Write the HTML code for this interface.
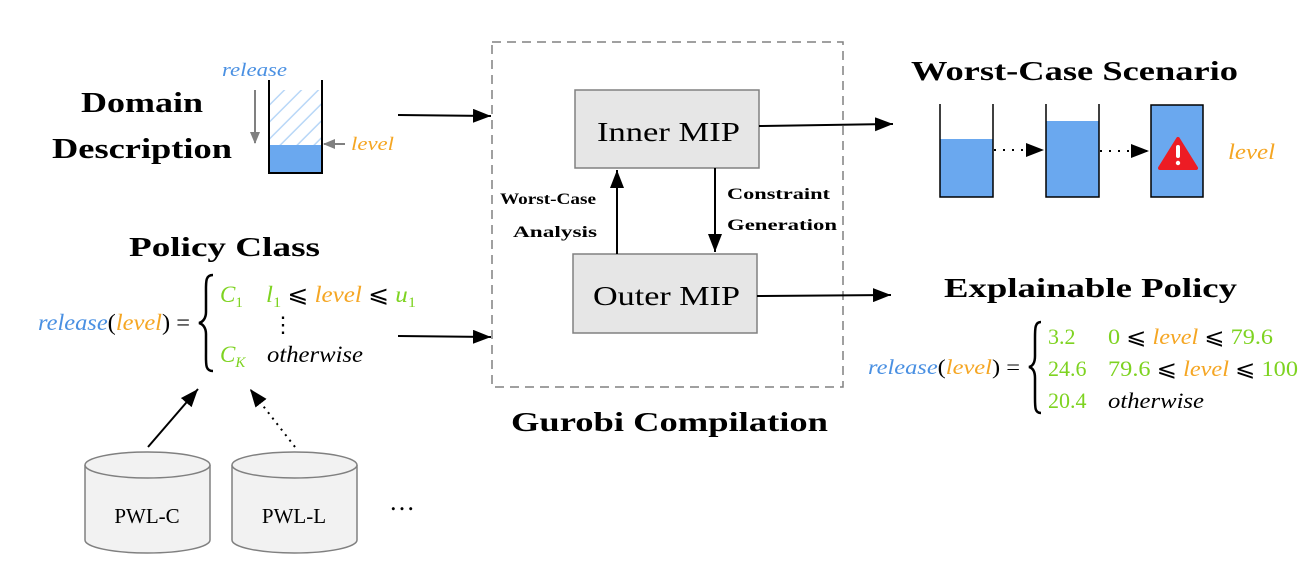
<!DOCTYPE html>
<html><head><style>body{margin:0;background:#fff}svg{display:block}</style></head><body>
<svg width="1308" height="580" viewBox="0 0 1308 580" xmlns="http://www.w3.org/2000/svg" font-family="Liberation Serif, serif">
<defs>
<marker id="a" markerWidth="10" markerHeight="8" refX="9" refY="4" orient="auto" markerUnits="userSpaceOnUse"><path d="M0,0L10,4L0,8z" fill="#000"/></marker>
<marker id="ab" markerWidth="20" markerHeight="14" refX="18" refY="7" orient="auto" markerUnits="userSpaceOnUse"><path d="M0,0L18,7L0,14z" fill="#000"/></marker>
<marker id="g" markerWidth="12" markerHeight="10" refX="11" refY="5" orient="auto" markerUnits="userSpaceOnUse"><path d="M0,0L12,5L0,10z" fill="#808080"/></marker>
<pattern id="h" width="12" height="12" patternUnits="userSpaceOnUse" patternTransform="rotate(45)"><line x1="0" y1="0" x2="0" y2="12" stroke="#b9d7f7" stroke-width="3"/></pattern>
</defs>
<!-- Domain -->
<text x="81" y="112" font-size="29" font-weight="bold" textLength="122" lengthAdjust="spacingAndGlyphs">Domain</text>
<text x="52" y="158" font-size="29" font-weight="bold" textLength="180" lengthAdjust="spacingAndGlyphs">Description</text>
<text x="222" y="76" font-size="19" font-style="italic" fill="#4a90e2" textLength="65" lengthAdjust="spacingAndGlyphs">release</text>
<line x1="255" y1="90" x2="255" y2="143" stroke="#808080" stroke-width="2" marker-end="url(#g)"/>
<rect x="270" y="90" width="52" height="55" fill="url(#h)"/>
<rect x="270" y="145" width="52" height="28" fill="#6aa8ef"/>
<path d="M269,80V173H322V80" fill="none" stroke="#000" stroke-width="2"/>
<line x1="345" y1="144" x2="324" y2="144" stroke="#808080" stroke-width="2" marker-end="url(#g)"/>
<text x="351" y="150" font-size="19" font-style="italic" fill="#f5a623" textLength="43" lengthAdjust="spacingAndGlyphs">level</text>
<!-- Policy class -->
<text x="129" y="256" font-size="27" font-weight="bold" textLength="191" lengthAdjust="spacingAndGlyphs">Policy Class</text>
<text x="38" y="330" font-size="23" font-style="italic" textLength="152" lengthAdjust="spacingAndGlyphs"><tspan fill="#4a90e2">release</tspan><tspan font-style="normal">(</tspan><tspan fill="#f5a623">level</tspan><tspan font-style="normal">) =</tspan></text>
<path d="M213,275C205,275 206,282 206,295V312C206,318 203,322 199,323C203,324 206,328 206,334V352C206,364 205,371 213,371" fill="none" stroke="#000" stroke-width="2.5"/>
<text x="220" y="302" font-size="23" font-style="italic" fill="#7ed321">C<tspan font-size="15" dy="5" font-style="normal">1</tspan></text>
<text x="266" y="302" font-size="23" font-style="italic" textLength="150" lengthAdjust="spacingAndGlyphs"><tspan fill="#7ed321">l</tspan><tspan fill="#7ed321" font-size="15" dy="5" font-style="normal">1</tspan><tspan dy="-5" font-style="normal"> ⩽ </tspan><tspan fill="#f5a623">level</tspan><tspan font-style="normal"> ⩽ </tspan><tspan fill="#7ed321">u</tspan><tspan fill="#7ed321" font-size="15" dy="5" font-style="normal">1</tspan></text>
<text x="272" y="332" font-size="22">⋮</text>
<text x="220" y="362" font-size="23" font-style="italic" fill="#7ed321">C<tspan font-size="15" dy="5">K</tspan></text>
<text x="267" y="362" font-size="23" font-style="italic" textLength="96" lengthAdjust="spacingAndGlyphs">otherwise</text>
<!-- arrows into box -->
<line x1="398" y1="115" x2="491" y2="116" stroke="#000" stroke-width="2" marker-end="url(#ab)"/>
<line x1="398" y1="336" x2="491" y2="337" stroke="#000" stroke-width="2" marker-end="url(#ab)"/>
<!-- dashed box -->
<rect x="492" y="42" width="351" height="345" fill="none" stroke="#808080" stroke-width="1.5" stroke-dasharray="9,6"/>
<rect x="575" y="90" width="184" height="78" fill="#e6e6e6" stroke="#808080" stroke-width="1.5"/>
<text x="597" y="141" font-size="27" textLength="143" lengthAdjust="spacingAndGlyphs">Inner MIP</text>
<rect x="573" y="254" width="184" height="79" fill="#e6e6e6" stroke="#808080" stroke-width="1.5"/>
<text x="593" y="305" font-size="27" textLength="147" lengthAdjust="spacingAndGlyphs">Outer MIP</text>
<line x1="617" y1="254" x2="617" y2="170" stroke="#000" stroke-width="2" marker-end="url(#ab)"/>
<line x1="715" y1="168" x2="715" y2="252" stroke="#000" stroke-width="2" marker-end="url(#ab)"/>
<text x="500" y="204" font-size="16" font-weight="bold" textLength="96" lengthAdjust="spacingAndGlyphs">Worst-Case</text>
<text x="513" y="237" font-size="16" font-weight="bold" textLength="84" lengthAdjust="spacingAndGlyphs">Analysis</text>
<text x="727" y="199" font-size="16" font-weight="bold" textLength="103" lengthAdjust="spacingAndGlyphs">Constraint</text>
<text x="727" y="230" font-size="16" font-weight="bold" textLength="110" lengthAdjust="spacingAndGlyphs">Generation</text>
<text x="511" y="431" font-size="27" font-weight="bold" textLength="317" lengthAdjust="spacingAndGlyphs">Gurobi Compilation</text>
<line x1="759" y1="126" x2="893" y2="124" stroke="#000" stroke-width="2" marker-end="url(#ab)"/>
<line x1="757" y1="296" x2="891" y2="295" stroke="#000" stroke-width="2" marker-end="url(#ab)"/>
<!-- Worst case -->
<text x="911" y="80" font-size="27" font-weight="bold" textLength="327" lengthAdjust="spacingAndGlyphs">Worst-Case Scenario</text>
<rect x="940" y="139" width="53" height="58" fill="#6aa8ef"/>
<path d="M940,104V197H993V104" fill="none" stroke="#000" stroke-width="1.5"/>
<rect x="1046" y="121" width="53" height="76" fill="#6aa8ef"/>
<path d="M1046,104V197H1099V104" fill="none" stroke="#000" stroke-width="1.5"/>
<rect x="1151" y="105" width="52" height="92" fill="#6aa8ef" stroke="#000" stroke-width="1.5"/>
<line x1="994" y1="150" x2="1044" y2="150" stroke="#000" stroke-width="2" stroke-dasharray="2,7" marker-end="url(#ab)"/>
<line x1="1100" y1="151" x2="1149" y2="151" stroke="#000" stroke-width="2" stroke-dasharray="2,7" marker-end="url(#ab)"/>
<path d="M1178,139L1196,168H1160z" fill="#ed1c24" stroke="#ed1c24" stroke-width="4" stroke-linejoin="round"/>
<rect x="1176" y="145" width="4" height="13" rx="2" fill="#fff"/><circle cx="1178" cy="163" r="2.2" fill="#fff"/>
<text x="1228" y="159" font-size="22" font-style="italic" fill="#f5a623" textLength="47" lengthAdjust="spacingAndGlyphs">level</text>
<!-- Explainable policy -->
<text x="944" y="297" font-size="27" font-weight="bold" textLength="293" lengthAdjust="spacingAndGlyphs">Explainable Policy</text>
<text x="868" y="374" font-size="21" font-style="italic" textLength="152" lengthAdjust="spacingAndGlyphs"><tspan fill="#4a90e2">release</tspan><tspan font-style="normal">(</tspan><tspan fill="#f5a623">level</tspan><tspan font-style="normal">) =</tspan></text>
<path d="M1041,322C1035,322 1035,328 1035,338V356C1035,362 1033,366 1029,367C1033,368 1035,372 1035,378V398C1035,408 1035,413 1041,413" fill="none" stroke="#000" stroke-width="2.5"/>
<g font-size="22" fill="#7ed321">
<text x="1048" y="344">3.2</text><text x="1108" y="344" textLength="165" lengthAdjust="spacingAndGlyphs">0 <tspan fill="#000">⩽</tspan> <tspan fill="#f5a623" font-style="italic">level</tspan> <tspan fill="#000">⩽</tspan> 79.6</text>
<text x="1048" y="376">24.6</text><text x="1108" y="376" textLength="190" lengthAdjust="spacingAndGlyphs">79.6 <tspan fill="#000">⩽</tspan> <tspan fill="#f5a623" font-style="italic">level</tspan> <tspan fill="#000">⩽</tspan> 100</text>
<text x="1048" y="408">20.4</text><text x="1108" y="408" fill="#000" font-style="italic" textLength="96" lengthAdjust="spacingAndGlyphs">otherwise</text>
</g>
<!-- cylinders -->
<g stroke="#808080" stroke-width="1.5" fill="#f2f2f2">
<path d="M85,465V540A62.5,13 0 0 0 210,540V465"/><ellipse cx="147.5" cy="465" rx="62.5" ry="13"/>
<path d="M232,465V540A62.5,13 0 0 0 357,540V465"/><ellipse cx="294.5" cy="465" rx="62.5" ry="13"/>
</g>
<text x="147" y="523" font-size="21" text-anchor="middle">PWL-C</text>
<text x="294" y="523" font-size="21" text-anchor="middle">PWL-L</text>
<text x="402" y="510" font-size="26" text-anchor="middle">…</text>
<line x1="148" y1="447" x2="198" y2="389" stroke="#000" stroke-width="2" marker-end="url(#ab)"/>
<line x1="295" y1="447" x2="250" y2="389" stroke="#000" stroke-width="2" stroke-dasharray="2,5" marker-end="url(#ab)"/>
</svg>
</body></html>
